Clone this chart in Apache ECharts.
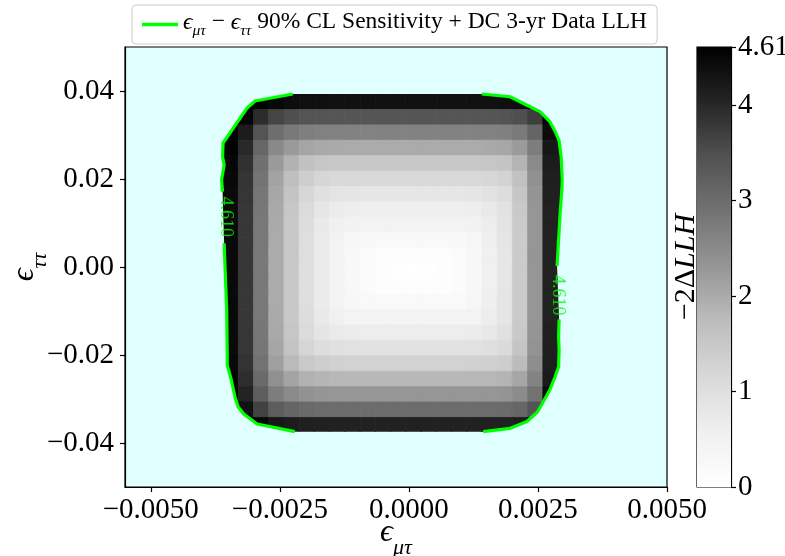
<!DOCTYPE html>
<html><head><meta charset="utf-8">
<script src="https://cdn.jsdelivr.net/npm/echarts@6/dist/echarts.min.js"></script>
<style>html,body{margin:0;padding:0;background:#fff}#c{width:785px;height:556px}</style>
</head><body><div id="c"></div>
<script>
// ---- data ----
const epsMuTauEdges = [-0.00366,-0.003305,-0.00301,-0.002715,-0.00242,-0.002125,-0.00183,-0.001535,-0.00124,-0.000945,-0.00065,-0.000355,-0.00006,0.000235,0.00053,0.000825,0.00112,0.001415,0.00171,0.002005,0.0023,0.002595,0.00299];
const epsTauTauEdges = [0.0393,0.0358,0.0323,0.0288,0.0253,0.0218,0.0183,0.0148,0.0113,0.0078,0.0043,0.0008,-0.0027,-0.0062,-0.0097,-0.0132,-0.0167,-0.0202,-0.0237,-0.0272,-0.0307,-0.0342,-0.0377];
const llhRows = [
[4.60,4.60,4.58,4.49,4.41,4.37,4.36,4.35,4.35,4.35,4.35,4.35,4.35,4.35,4.35,4.35,4.35,4.35,4.36,4.40,4.60,4.60],
[4.60,4.55,3.94,3.62,3.49,3.43,3.41,3.40,3.40,3.40,3.40,3.40,3.40,3.40,3.40,3.40,3.40,3.41,3.42,3.49,3.72,4.60],
[4.58,4.18,3.42,2.97,2.78,2.68,2.65,2.63,2.63,2.63,2.63,2.63,2.63,2.63,2.63,2.63,2.63,2.64,2.66,2.77,3.12,4.43],
[4.58,3.98,3.10,2.52,2.25,2.09,2.03,2.01,2.00,2.00,2.00,2.00,2.00,2.00,2.00,2.00,2.00,2.02,2.05,2.23,2.72,4.25],
[4.51,3.88,2.94,2.25,1.89,1.65,1.55,1.51,1.50,1.50,1.50,1.50,1.50,1.50,1.50,1.50,1.50,1.53,1.58,1.86,2.50,4.17],
[4.48,3.83,2.86,2.12,1.69,1.37,1.22,1.16,1.15,1.14,1.14,1.14,1.14,1.14,1.14,1.14,1.15,1.19,1.27,1.65,2.39,4.13],
[4.46,3.81,2.82,2.05,1.58,1.19,0.97,0.87,0.84,0.83,0.83,0.83,0.83,0.83,0.83,0.83,0.84,0.92,1.05,1.54,2.34,4.11],
[4.45,3.80,2.81,2.02,1.53,1.09,0.82,0.68,0.62,0.60,0.60,0.60,0.60,0.60,0.60,0.60,0.62,0.74,0.92,1.48,2.31,4.10],
[4.45,3.80,2.80,2.01,1.51,1.06,0.76,0.58,0.49,0.46,0.46,0.46,0.46,0.46,0.46,0.46,0.50,0.66,0.87,1.47,2.31,4.10],
[4.45,3.80,2.80,2.00,1.50,1.03,0.71,0.48,0.32,0.25,0.23,0.23,0.23,0.23,0.23,0.25,0.34,0.59,0.84,1.45,2.30,4.10],
[4.45,3.80,2.80,2.00,1.50,1.03,0.70,0.46,0.27,0.16,0.10,0.08,0.08,0.08,0.09,0.16,0.30,0.58,0.83,1.45,2.30,4.10],
[4.45,3.80,2.80,2.00,1.50,1.03,0.70,0.46,0.27,0.15,0.08,0.04,0.00,0.03,0.07,0.15,0.30,0.58,0.83,1.45,2.30,4.10],
[4.45,3.80,2.80,2.00,1.50,1.03,0.70,0.46,0.27,0.16,0.09,0.07,0.07,0.07,0.08,0.16,0.30,0.58,0.83,1.45,2.30,4.10],
[4.45,3.80,2.80,2.00,1.50,1.03,0.71,0.48,0.31,0.24,0.22,0.22,0.22,0.22,0.22,0.24,0.34,0.59,0.84,1.45,2.30,4.10],
[4.45,3.80,2.80,2.01,1.51,1.05,0.75,0.56,0.45,0.43,0.42,0.42,0.42,0.42,0.42,0.43,0.47,0.65,0.86,1.46,2.30,4.10],
[4.46,3.81,2.81,2.02,1.54,1.11,0.86,0.73,0.67,0.66,0.66,0.66,0.66,0.66,0.66,0.66,0.68,0.78,0.95,1.49,2.32,4.11],
[4.46,3.82,2.83,2.07,1.61,1.24,1.05,0.97,0.94,0.93,0.93,0.93,0.93,0.93,0.93,0.93,0.94,1.00,1.11,1.57,2.35,4.12],
[4.49,3.85,2.89,2.17,1.77,1.49,1.37,1.32,1.30,1.30,1.30,1.30,1.30,1.30,1.30,1.30,1.31,1.34,1.40,1.74,2.43,4.14],
[4.55,3.93,3.03,2.40,2.10,1.91,1.84,1.81,1.80,1.80,1.80,1.80,1.80,1.80,1.80,1.80,1.80,1.82,1.86,2.07,2.62,4.21],
[4.60,4.06,3.24,2.72,2.50,2.37,2.32,2.31,2.30,2.30,2.30,2.30,2.30,2.30,2.30,2.30,2.30,2.31,2.34,2.48,2.90,4.40],
[4.60,4.34,3.66,3.27,3.12,3.04,3.01,3.00,3.00,3.00,3.00,3.00,3.00,3.00,3.00,3.00,3.00,3.01,3.02,3.11,3.40,4.60],
[4.60,4.60,4.50,4.25,4.17,4.12,4.11,4.10,4.10,4.10,4.10,4.10,4.10,4.10,4.10,4.10,4.10,4.10,4.11,4.16,4.60,4.60]
];
const contourLevel = 4.61;
const contourTopLeft = [[-0.00225,0.03932],[-0.00298,0.03773],[-0.00314,0.03607],[-0.00360,0.02818],[-0.00361,0.02507],[-0.00358,0.02318],[-0.00363,0.01977],[-0.00361,0.01711]];
const contourBottomLeft = [[-0.00358,0.00539],[-0.00356,-0.00068],[-0.00353,-0.00977],[-0.00352,-0.01955],[-0.00352,-0.02227],[-0.00345,-0.02523],[-0.00337,-0.02948],[-0.00331,-0.03175],[-0.00320,-0.03341],[-0.00294,-0.03568],[-0.00221,-0.03743]];
const contourTopRight = [[0.00141,0.03932],[0.00196,0.03870],[0.00228,0.03682],[0.00254,0.03530],[0.00273,0.03302],[0.00283,0.03091],[0.00291,0.02864],[0.00295,0.02500],[0.00297,0.01977],[0.00296,0.01705],[0.00293,0.01227],[0.00290,0.00614],[0.00287,0.00023]];
const contourBottomRight = [[0.00291,-0.01193],[0.00290,-0.01591],[0.00291,-0.01886],[0.00290,-0.02266],[0.00283,-0.02500],[0.00273,-0.02795],[0.00260,-0.03068],[0.00249,-0.03295],[0.00228,-0.03516],[0.00196,-0.03666],[0.00144,-0.03743]];
const contourLabelPos = [[-0.00354,0.0114],[0.00288,-0.0064]];
const xTicks = [-0.005,-0.0025,0,0.0025,0.005];
const yTicks = [-0.04,-0.02,0,0.02,0.04];
const cbTicks = [0,1,2,3,4,4.61];
const greys = ['#ffffff','#f0f0f0','#d9d9d9','#bdbdbd','#969696','#737373','#525252','#252525','#000000'];
const legendName = 'eps_mutau - eps_tautau 90% CL Sensitivity + DC 3-yr Data LLH';

// ---- build ----
const cells = [];
llhRows.forEach((row, j) => row.forEach((v, i) => {
  if (v !== null) cells.push([epsMuTauEdges[i], epsMuTauEdges[i+1], epsTauTauEdges[j+1], epsTauTauEdges[j], v]);
}));
// region enclosed by the 4.61 contour (used to clip the map, as outside is above the level)
const enclosed = [].concat(contourTopLeft, contourBottomLeft, contourBottomRight.slice().reverse(), contourTopRight.slice().reverse());
const FF = 'Liberation Serif';
const minus = s => s.replace('-', '\u2212');
const subRich = (big, small) => ({
  e: {fontFamily: FF, fontSize: big, fontStyle: 'italic', color: '#000', verticalAlign: 'bottom', padding: [0,0,Math.round(big*0.3),0]},
  s: {fontFamily: FF, fontSize: small, fontStyle: 'italic', color: '#000', verticalAlign: 'bottom'},
  t: {fontFamily: FF, fontSize: big, color: '#000', verticalAlign: 'bottom', padding: [0,0,Math.round(big*0.3),0]}
});
const contourSeries = [contourTopLeft, contourBottomLeft, contourTopRight, contourBottomRight].map(pc => ({
  type: 'line', name: legendName, data: pc, xAxisIndex: 0, yAxisIndex: 0,
  symbol: 'none', showSymbol: false, smooth: false, z: 5, silent: true,
  lineStyle: {color: '#00ff00', width: 3.2}, itemStyle: {color: '#00ff00'}
}));
const axLine = {show: true, onZero: false, lineStyle: {color: '#000', width: 1.2}};

const chart = echarts.init(document.getElementById('c'), null, {renderer: 'canvas'});
chart.setOption({
  animation: false,
  backgroundColor: '#ffffff',
  grid: [
    {left: 125, top: 47, width: 542, height: 440, show: true, backgroundColor: '#e0ffff', borderColor: '#000', borderWidth: 1.2, containLabel: false, outerBoundsMode: 'none'},
    {left: 697, top: 47, width: 34, height: 440, show: true, borderColor: '#000', borderWidth: 1.2, containLabel: false, outerBoundsMode: 'none'}
  ],
  xAxis: [
    {type: 'value', gridIndex: 0, min: -0.0055, max: 0.005,
     axisLine: axLine,
     axisTick: {show: true, customValues: xTicks, length: 5, lineStyle: {color: '#000', width: 1.2}},
     axisLabel: {customValues: xTicks, color: '#000', fontFamily: FF, fontSize: 29, margin: 9,
       formatter: v => minus(v.toFixed(4))},
     splitLine: {show: false},
     name: '{e|\u03f5}{s|\u03bc\u03c4}', nameLocation: 'middle', nameGap: 30, nameMoveOverlap: false,
     nameTextStyle: {rich: subRich(32, 22)}},
    {type: 'value', gridIndex: 1, min: 0, max: 1, show: false}
  ],
  yAxis: [
    {type: 'value', gridIndex: 0, min: -0.05, max: 0.05,
     axisLine: axLine,
     axisTick: {show: true, customValues: yTicks, length: 5, lineStyle: {color: '#000', width: 1.2}},
     axisLabel: {customValues: yTicks, color: '#000', fontFamily: FF, fontSize: 29, margin: 11,
       formatter: v => minus(v.toFixed(2))},
     splitLine: {show: false},
     name: '{e|\u03f5}{s|\u03c4\u03c4}', nameLocation: 'middle', nameGap: 74, nameRotate: 90, nameMoveOverlap: false,
     nameTextStyle: {rich: subRich(32, 22)}},
    {type: 'value', gridIndex: 1, min: 0, max: 4.61, position: 'right',
     axisLine: axLine,
     axisTick: {show: true, customValues: cbTicks, length: 5, lineStyle: {color: '#000', width: 1.2}},
     axisLabel: {customValues: cbTicks, color: '#000', fontFamily: FF, fontSize: 29, margin: 7,
       formatter: v => (v === 4.61 ? '4.61' : String(Math.round(v)))},
     splitLine: {show: false}},
    {type: 'value', gridIndex: 1, min: 0, max: 4.61, position: 'left',
     axisLine: {show: false, onZero: false}, axisTick: {show: false}, axisLabel: {show: false}, splitLine: {show: false},
     name: '\u22122\u0394{i|LLH}', nameLocation: 'middle', nameGap: -4, nameRotate: 90, nameMoveOverlap: false,
     nameTextStyle: {fontFamily: FF, fontSize: 30, color: '#000', rich: {i: {fontFamily: FF, fontSize: 30, fontStyle: 'italic', color: '#000'}}}}
  ],
  visualMap: {type: 'continuous', show: false, seriesIndex: 0, dimension: 4, min: 0, max: 4.61, inRange: {color: greys}},
  legend: {
    data: [legendName], left: 132, top: 5, padding: [5, 10, 5, 10],
    backgroundColor: '#ffffff', borderColor: '#cccccc', borderWidth: 1, borderRadius: 4,
    icon: 'rect', itemWidth: 36, itemHeight: 3.5, selectedMode: false,
    textStyle: {fontFamily: FF, fontSize: 23.5, color: '#000', rich: {
      e: {fontFamily: FF, fontSize: 23.5, fontStyle: 'italic', color: '#000', verticalAlign: 'bottom', padding: [0,0,5,0]},
      s: {fontFamily: FF, fontSize: 15.5, fontStyle: 'italic', color: '#000', verticalAlign: 'bottom'},
      t: {fontFamily: FF, fontSize: 23.5, color: '#000', verticalAlign: 'bottom', padding: [0,0,5,0]}
    }},
    formatter: () => '{e|\u03f5}{s|\u03bc\u03c4}{t| \u2212 }{e|\u03f5}{s|\u03c4\u03c4}{t| 90% CL Sensitivity + DC 3-yr Data LLH}'
  },
  series: [
    {type: 'custom', name: 'llh', xAxisIndex: 0, yAxisIndex: 0, data: cells, silent: true, z: 1,
     encode: {x: [0, 1], y: [2, 3]},
     renderItem: (params, api) => {
       if (!params.context.clipPts) params.context.clipPts = enclosed.map(p => api.coord(p));
       const p0 = api.coord([api.value(0), api.value(3)]);
       const p1 = api.coord([api.value(1), api.value(2)]);
       const c = api.visual('color');
       return {type: 'rect', shape: {x: p0[0], y: p0[1], width: p1[0] - p0[0], height: p1[1] - p0[1]},
               style: {fill: c, stroke: c, lineWidth: 0.8},
               clipPath: {type: 'polygon', shape: {points: params.context.clipPts}}};
     }},
    ...contourSeries,
    {type: 'scatter', name: 'clabel', xAxisIndex: 0, yAxisIndex: 0, symbolSize: 0, silent: true, z: 6,
     data: contourLabelPos.map(p => [p[0], p[1], contourLevel]),
     label: {show: true, position: 'inside', rotate: -90, color: '#00ff00', fontFamily: FF, fontSize: 18,
       formatter: p => p.value[2].toFixed(3)}},
    {type: 'custom', name: 'colorbar', xAxisIndex: 1, yAxisIndex: 1, silent: true,
     data: [[0, 1, 0, cbTicks[cbTicks.length - 1]]], encode: {x: [0, 1], y: [2, 3]},
     renderItem: (params, api) => {
       const p0 = api.coord([api.value(0), api.value(3)]);
       const p1 = api.coord([api.value(1), api.value(2)]);
       return {type: 'rect', shape: {x: p0[0], y: p0[1], width: p1[0] - p0[0], height: p1[1] - p0[1]},
         style: {fill: {type: 'linear', x: 0, y: 1, x2: 0, y2: 0,
           colorStops: greys.map((c, k) => ({offset: k / (greys.length - 1), color: c}))}}};
     }}
  ]
});
</script></body></html>
